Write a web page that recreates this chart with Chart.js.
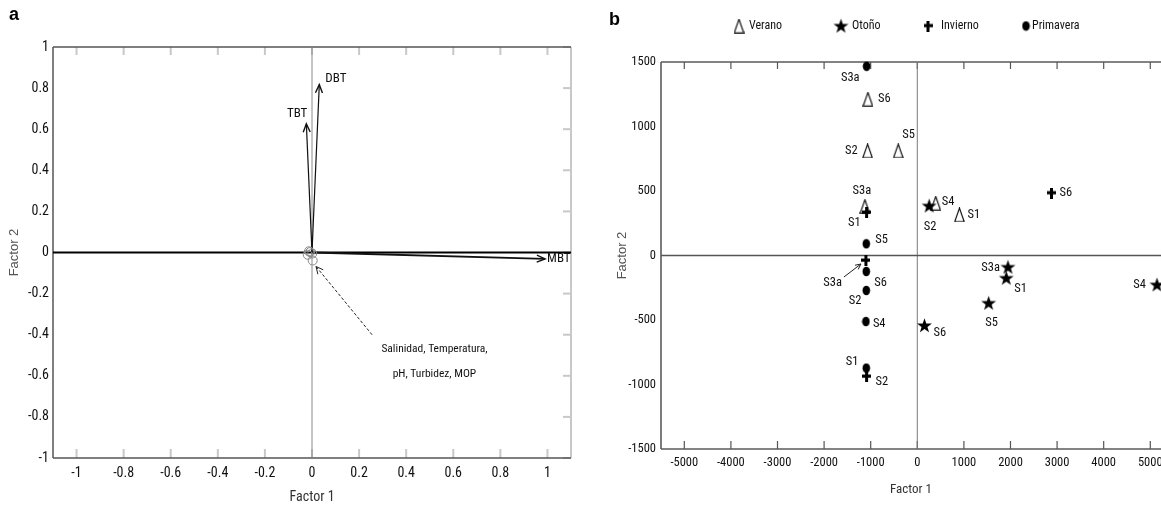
<!DOCTYPE html>
<html><head><meta charset="utf-8">
<script src="https://cdn.jsdelivr.net/npm/chart.js@4.4.1/dist/chart.umd.min.js"></script>
<style>
html,body{margin:0;padding:0;background:#fff;overflow:hidden;width:1161px;height:510px;}
#wa{position:absolute;left:0;top:0;width:580px;height:510px;}
#wb{position:absolute;left:580px;top:0;width:581px;height:510px;}
</style></head><body>
<div id="wa"><canvas id="ca"></canvas></div>
<div id="wb"><canvas id="cb"></canvas></div>
<script>
// ================= DATA =================
// Panel a (loadings)
const A_X_TICKS = [-1, -0.8, -0.6, -0.4, -0.2, 0, 0.2, 0.4, 0.6, 0.8, 1];
const A_Y_TICKS = [-1, -0.8, -0.6, -0.4, -0.2, 0, 0.2, 0.4, 0.6, 0.8, 1];
const A_VECTOR_NAMES = ['DBT', 'TBT', 'MBT'];
const A_VECTOR_X = [0.031, -0.024, 0.99];
const A_VECTOR_Y = [0.817, 0.626, -0.031];
const A_MINOR_NAMES = ['Salinidad', 'Temperatura', 'pH', 'Turbidez', 'MOP'];
const A_MINOR_X = [-0.018, -0.013, 0.003, -0.008, 0.001];
const A_MINOR_Y = [-0.011, 0.006, -0.039, 0.002, -0.005];
const A_NOTE_LINES = ['Salinidad, Temperatura,', 'pH, Turbidez, MOP'];
const A_NOTE_X = [0.52, 0.52];
const A_NOTE_Y = [-0.47, -0.59];
const A_NOTE_ARROW_X = [0.255, 0.017];
const A_NOTE_ARROW_Y = [-0.40, -0.068];

// Panel b (scores)
const B_X_TICKS = [-5000, -4000, -3000, -2000, -1000, 0, 1000, 2000, 3000, 4000, 5000];
const B_Y_TICKS = [-1500, -1000, -500, 0, 500, 1000, 1500];
const SEASONS = ['Verano', 'Otoño', 'Invierno', 'Primavera'];
const VERANO_SITES = ['S6', 'S2', 'S5', 'S3a', 'S4', 'S1'];
const VERANO_X = [-1060, -1066, -409, -1124, 396, 904];
const VERANO_Y = [1212, 811, 811, 380, 406, 315];
const OTONO_SITES = ['S2', 'S6', 'S5', 'S3a', 'S1', 'S4'];
const OTONO_X = [255, 154, 1531, 1946, 1910, 5143];
const OTONO_Y = [385, -543, -369, -90, -175, -227];
const INVIERNO_SITES = ['S1', 'S3a', 'S2', 'S6'];
const INVIERNO_X = [-1088, -1103, -1088, 2880];
const INVIERNO_Y = [333, -39, -938, 484];
const PRIMAVERA_SITES = ['S3a', 'S5', 'S6', 'S2', 'S4', 'S1'];
const PRIMAVERA_X = [-1088, -1094, -1094, -1094, -1103, -1094];
const PRIMAVERA_Y = [1467, 91, -124, -271, -512, -873];

// ================= STYLE =================
const NARROW = "'Roboto Condensed','Liberation Sans Narrow','DejaVu Sans Condensed',sans-serif";
const SANS = "'Liberation Sans',Arial,sans-serif";
// label placement: [dx, dy, align] in pixels relative to the marker
const VERANO_LBL = [[10,0,'left'],[-10,0,'right'],[4,-16,'left'],[-3,-16,'center'],[6,-1,'left'],[8,0,'left']];
const OTONO_LBL = [[1,21,'center'],[9,7,'left'],[3,20,'center'],[-8,1,'right'],[8,11,'left'],[-11,0,'right']];
const INVIERNO_LBL = [[-6,10,'right'],[-24,22,'right'],[9,5,'left'],[8,0,'left']];
const PRIMAVERA_LBL = [[-7,12,'right'],[9,-4,'left'],[8,11,'left'],[-5,10,'right'],[7,2,'left'],[-8,-6,'right']];

function pts(xs, ys) { return xs.map((v, i) => ({x: v, y: ys[i]})); }
function seg(ctx, x0, y0, x1, y1) { ctx.beginPath(); ctx.moveTo(x0, y0); ctx.lineTo(x1, y1); ctx.stroke(); }
function head(ctx, x0, y0, x1, y1, len, ang) {
  const a = Math.atan2(y1 - y0, x1 - x0);
  ctx.beginPath();
  ctx.moveTo(x1 - len * Math.cos(a - ang), y1 - len * Math.sin(a - ang));
  ctx.lineTo(x1, y1);
  ctx.lineTo(x1 - len * Math.cos(a + ang), y1 - len * Math.sin(a + ang));
  ctx.stroke();
}
function noAutoPad(s) { s.paddingLeft = 0; s.paddingRight = 0; if (s._margins) { s._margins.right = 0; } }
function marker(w, h, fn) { const c = document.createElement('canvas'); c.width = w; c.height = h; fn(c.getContext('2d'), w, h); return c; }
const triImg = marker(11, 15, g => { g.beginPath(); g.moveTo(5.5, 0.8); g.lineTo(10.2, 14.2); g.lineTo(0.8, 14.2); g.closePath(); g.strokeStyle = '#000'; g.lineWidth = 1.1; g.stroke(); });
const starImg = marker(17, 17, g => { g.beginPath(); for (let i = 0; i < 10; i++) { const r = i % 2 ? 3.1 : 7.8; const a = -Math.PI / 2 + i * Math.PI / 5; g.lineTo(8.5 + r * Math.cos(a), 9 + r * Math.sin(a)); } g.closePath(); g.fillStyle = '#000'; g.fill(); });
const plusImg = marker(9, 11, g => { g.fillStyle = '#000'; g.fillRect(3, 0, 3, 11); g.fillRect(0, 3.5, 9, 3.2); });
const dotImg = marker(9, 11, g => { g.beginPath(); g.ellipse(4.5, 5.5, 3.8, 4.8, 0, 0, 2 * Math.PI); g.fillStyle = '#000'; g.fill(); });

// ================= PANEL A =================
const aPlugin = {
  id: 'aPlugin',
  beforeDatasetsDraw(chart) {
    const {ctx, chartArea: ca, scales: {x, y}} = chart;
    ctx.save();
    ctx.lineWidth = 2; ctx.strokeStyle = '#c8c8c8';
    for (const v of A_X_TICKS) { const px = x.getPixelForValue(v); seg(ctx, px, ca.bottom, px, ca.bottom - 9); seg(ctx, px, ca.top, px, ca.top + 8); }
    for (const v of A_Y_TICKS) { const py = y.getPixelForValue(v); seg(ctx, ca.right, py, ca.right - 8, py); }
    seg(ctx, ca.right, ca.top, ca.right, ca.bottom);
    ctx.strokeStyle = '#555'; ctx.lineWidth = 1.5;
    seg(ctx, ca.left, ca.top, ca.left, ca.bottom);
    seg(ctx, ca.left, ca.bottom, ca.right, ca.bottom);
    seg(ctx, ca.left, ca.top, ca.right, ca.top);
    ctx.restore();
  },
  afterDatasetsDraw(chart) {
    const {ctx, scales: {x, y}} = chart;
    ctx.save();
    const ox = x.getPixelForValue(0), oy = y.getPixelForValue(0);
    ctx.strokeStyle = '#111'; ctx.lineWidth = 1.4;
    const tips = A_VECTOR_X.map((v, i) => [x.getPixelForValue(v), y.getPixelForValue(A_VECTOR_Y[i])]);
    tips.forEach(t => head(ctx, ox, oy, t[0], t[1], 9, 0.4));
    ctx.fillStyle = '#111'; ctx.font = '13px ' + NARROW; ctx.textBaseline = 'middle';
    ctx.textAlign = 'left'; ctx.fillText(A_VECTOR_NAMES[0], tips[0][0] + 6, tips[0][1] - 6);
    ctx.textAlign = 'right'; ctx.fillText(A_VECTOR_NAMES[1], tips[1][0] + 1, tips[1][1] - 10);
    ctx.textAlign = 'left'; ctx.fillText(A_VECTOR_NAMES[2], tips[2][0] + 2, tips[2][1]);
    // dashed pointer arrowhead
    ctx.lineWidth = 1; ctx.strokeStyle = '#222';
    head(ctx, x.getPixelForValue(A_NOTE_ARROW_X[0]), y.getPixelForValue(A_NOTE_ARROW_Y[0]),
         x.getPixelForValue(A_NOTE_ARROW_X[1]), y.getPixelForValue(A_NOTE_ARROW_Y[1]), 8, 0.45);
    ctx.textAlign = 'center'; ctx.font = '11.5px ' + NARROW; ctx.fillStyle = '#111';
    A_NOTE_LINES.forEach((s, i) => ctx.fillText(s, x.getPixelForValue(A_NOTE_X[i]), y.getPixelForValue(A_NOTE_Y[i])));
    ctx.font = 'bold 18px ' + SANS; ctx.textAlign = 'left'; ctx.textBaseline = 'alphabetic'; ctx.fillStyle = '#000';
    ctx.fillText('a', 9, 20);
    ctx.restore();
  }
};

const aDatasets = [
  {data: pts(A_MINOR_X, A_MINOR_Y), pointStyle: 'circle', pointRadius: 4.5, borderColor: '#888', backgroundColor: 'rgba(0,0,0,0)', borderWidth: 1, order: 1},
  ...A_VECTOR_NAMES.map((n, i) => ({label: n, data: pts([0, A_VECTOR_X[i]], [0, A_VECTOR_Y[i]]), showLine: true, pointRadius: 0, borderColor: '#111', borderWidth: i === 2 ? 1.8 : 1.2, order: 2})),
  {data: pts(A_NOTE_ARROW_X, A_NOTE_ARROW_Y), showLine: true, pointRadius: 0, borderColor: '#222', borderWidth: 1, borderDash: [3, 2], order: 3},
  {data: pts([-1.1, 1.1], [0, 0]), showLine: true, pointRadius: 0, borderColor: '#000', borderWidth: 2.2, order: 5},
  {data: pts([0, 0], [-1, 1]), showLine: true, pointRadius: 0, borderColor: '#8a8a8a', borderWidth: 1, order: 6}
];

new Chart(document.getElementById('ca'), {
  type: 'scatter',
  data: {datasets: aDatasets},
  options: {
    responsive: true, maintainAspectRatio: false, animation: false,
    events: [],
    layout: {autoPadding: false, padding: {top: 47, right: 9, left: 0, bottom: 0}},
    plugins: {legend: {display: false}, tooltip: {enabled: false}},
    scales: {
      x: {type: 'linear', min: -1.1, max: 1.1,
        afterBuildTicks: s => { s.ticks = A_X_TICKS.map(v => ({value: v})); },
        afterFit: s => { s.height = 52; noAutoPad(s); },
        grid: {display: false, drawTicks: false}, border: {display: false},
        ticks: {padding: 7, color: '#111', font: {family: NARROW, size: 14}, callback: v => String(v), maxRotation: 0, autoSkip: false},
        title: {display: true, text: 'Factor 1', color: '#333', font: {family: NARROW, size: 14}, padding: {top: 0, bottom: 4}}
      },
      y: {type: 'linear', min: -1, max: 1,
        afterBuildTicks: s => { s.ticks = A_Y_TICKS.map(v => ({value: v})); },
        afterFit: s => { s.width = 53; },
        grid: {display: false, drawTicks: false}, border: {display: false},
        ticks: {padding: 4, color: '#111', font: {family: NARROW, size: 14}, callback: v => String(v), autoSkip: false},
        title: {display: true, text: 'Factor 2', color: '#555', font: {family: SANS, size: 13}, padding: {top: 7, bottom: 0}}
      }
    }
  },
  plugins: [aPlugin]
});

// ================= PANEL B =================
const B_SERIES = [
  {name: SEASONS[0], xs: VERANO_X, ys: VERANO_Y, sites: VERANO_SITES, lbl: VERANO_LBL, img: triImg},
  {name: SEASONS[1], xs: OTONO_X, ys: OTONO_Y, sites: OTONO_SITES, lbl: OTONO_LBL, img: starImg},
  {name: SEASONS[2], xs: INVIERNO_X, ys: INVIERNO_Y, sites: INVIERNO_SITES, lbl: INVIERNO_LBL, img: plusImg},
  {name: SEASONS[3], xs: PRIMAVERA_X, ys: PRIMAVERA_Y, sites: PRIMAVERA_SITES, lbl: PRIMAVERA_LBL, img: dotImg}
];
const LEGEND_POS = [[739, 749], [841, 852], [928, 941], [1026, 1032]];

const bPlugin = {
  id: 'bPlugin',
  beforeDatasetsDraw(chart) {
    const {ctx, chartArea: ca, scales: {x, y}} = chart;
    ctx.save();
    ctx.lineWidth = 1.2; ctx.strokeStyle = '#555';
    for (const v of B_X_TICKS) { const px = x.getPixelForValue(v); seg(ctx, px, ca.bottom, px, ca.bottom - 8); seg(ctx, px, ca.top, px, ca.top + 7); }
    ctx.lineWidth = 1.6; ctx.strokeStyle = '#5a5a5a';
    seg(ctx, ca.left, ca.top, ca.left, ca.bottom);
    seg(ctx, ca.left, ca.bottom, ca.right, ca.bottom);
    seg(ctx, ca.left, ca.top, ca.right, ca.top);
    ctx.restore();
  },
  afterDatasetsDraw(chart) {
    const {ctx} = chart;
    ctx.save();
    ctx.fillStyle = '#111'; ctx.font = '12.5px ' + NARROW; ctx.textBaseline = 'middle';
    B_SERIES.forEach((s, di) => {
      const meta = chart.getDatasetMeta(di);
      meta.data.forEach((el, j) => {
        const [dx, dy, al] = s.lbl[j];
        ctx.textAlign = al;
        ctx.fillText(s.sites[j], el.x + dx, el.y + dy);
      });
    });
    // pointer for Invierno S3a
    const el = chart.getDatasetMeta(2).data[1];
    ctx.strokeStyle = '#222'; ctx.lineWidth = 1;
    seg(ctx, el.x - 22, el.y + 16.5, el.x - 5, el.y + 3.5);
    head(ctx, el.x - 22, el.y + 16.5, el.x - 5, el.y + 3.5, 6, 0.45);
    // legend
    ctx.textAlign = 'left'; ctx.font = '12px ' + NARROW; ctx.fillStyle = '#111';
    B_SERIES.forEach((s, i) => {
      const mx = LEGEND_POS[i][0] - 580, tx = LEGEND_POS[i][1] - 580;
      ctx.drawImage(s.img, mx - s.img.width / 2, 26 - s.img.height / 2);
      ctx.fillText(s.name, tx, 25.5);
    });
    ctx.font = 'bold 18px ' + SANS; ctx.fillStyle = '#000'; ctx.textBaseline = 'alphabetic';
    ctx.fillText('b', 29, 25);
    ctx.restore();
  }
};

const bDatasets = [
  ...B_SERIES.map((s, i) => ({label: s.name, data: pts(s.xs, s.ys), pointStyle: s.img, pointRadius: 6, clip: false, order: i})),
  {data: pts([-5500, 5230], [0, 0]), showLine: true, pointRadius: 0, borderColor: '#555', borderWidth: 1.6, order: 10},
  {data: pts([0, 0], [-1500, 1500]), showLine: true, pointRadius: 0, borderColor: '#7a7a7a', borderWidth: 1, order: 11}
];

new Chart(document.getElementById('cb'), {
  type: 'scatter',
  data: {datasets: bDatasets},
  options: {
    responsive: true, maintainAspectRatio: false, animation: false,
    events: [],
    layout: {autoPadding: false, padding: {top: 62, right: 0, left: 30, bottom: 0}},
    plugins: {legend: {display: false}, tooltip: {enabled: false}},
    scales: {
      x: {type: 'linear', min: -5500, max: 5230,
        afterBuildTicks: s => { s.ticks = B_X_TICKS.map(v => ({value: v})); },
        afterFit: s => { s.height = 61; noAutoPad(s); },
        grid: {display: false, drawTicks: false}, border: {display: false},
        ticks: {padding: 6, color: '#111', font: {family: NARROW, size: 12.5}, callback: v => String(v), maxRotation: 0, autoSkip: false},
        title: {display: true, text: 'Factor 1', color: '#333', font: {family: NARROW, size: 13}, padding: {top: 0, bottom: 12}}
      },
      y: {type: 'linear', min: -1500, max: 1500,
        afterBuildTicks: s => { s.ticks = B_Y_TICKS.map(v => ({value: v})); },
        afterFit: s => { s.width = 51; },
        grid: {display: false, drawTicks: false}, border: {display: false},
        ticks: {padding: 5, color: '#111', font: {family: NARROW, size: 12.5}, callback: v => String(v), autoSkip: false},
        title: {display: true, text: 'Factor 2', color: '#555', font: {family: SANS, size: 13}, padding: {top: 5, bottom: 0}}
      }
    }
  },
  plugins: [bPlugin]
});
</script>
</body></html>
